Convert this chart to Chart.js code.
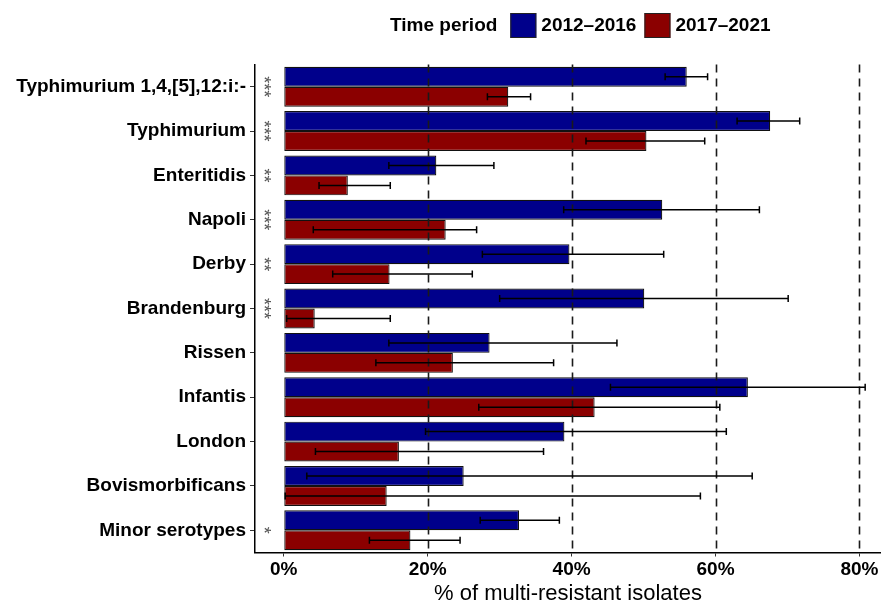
<!DOCTYPE html>
<html><head><meta charset="utf-8">
<script src="https://cdn.jsdelivr.net/npm/chart.js@4"></script>
<style>html,body{margin:0;padding:0;background:#fff}</style>
</head><body>
<canvas id="c" width="881" height="601"></canvas>
<script>
const categories = ['Typhimurium 1,4,[5],12:i:-','Typhimurium','Enteritidis','Napoli','Derby','Brandenburg','Rissen','Infantis','London','Bovismorbificans','Minor serotypes'];
const seriesNames = ['2012–2016','2017–2021'];
const legendTitle = 'Time period';
const early = [56.0,67.6,21.2,52.6,39.7,50.1,28.6,64.5,39.0,25.0,32.7];
const earlyLow = [53.0,63.0,14.6,38.9,27.6,30.0,14.6,45.4,19.7,3.2,27.3];
const earlyHigh = [58.9,71.7,29.2,66.1,52.8,70.1,46.3,80.8,61.5,65.1,38.3];
const late = [31.2,50.4,8.9,22.5,14.7,4.3,23.5,43.2,16.0,14.3,17.6];
const lateLow = [28.3,42.0,4.9,4.1,6.8,0.4,12.8,27.1,4.4,0.2,11.9];
const lateHigh = [34.3,58.5,14.8,26.8,26.2,14.8,37.5,60.6,36.1,57.9,24.5];
const significance = ['***','***','**','***','**','***','','','','','*'];
const xTicks = [0,20,40,60,80];
const xTitle = '% of multi-resistant isolates';
const colors = ['#00008B','#8B0000'];
const errLow = [earlyLow, lateLow];
const errHigh = [earlyHigh, lateHigh];

const FONT = '"Liberation Sans", Arial, sans-serif';

const overlay = {
  id: 'overlay',
  afterDatasetsDraw(chart) {
    const ctx = chart.ctx, xs = chart.scales.x, ys = chart.scales.y, area = chart.chartArea;
    // dashed reference lines
    ctx.save();
    ctx.strokeStyle = '#1a1a1a';
    ctx.lineWidth = 1.6;
    ctx.setLineDash([8, 6]);
    xTicks.forEach(v => {
      if (v === 0) return;
      const px = Math.round(xs.getPixelForValue(v)) + 0.5;
      ctx.beginPath();
      ctx.moveTo(px, area.top);
      ctx.lineTo(px, area.bottom);
      ctx.stroke();
    });
    ctx.restore();
    // error bars
    ctx.save();
    ctx.strokeStyle = '#000';
    ctx.lineWidth = 1.5;
    chart.data.datasets.forEach((ds, di) => {
      const meta = chart.getDatasetMeta(di);
      meta.data.forEach((bar, i) => {
        const y = bar.y;
        const x1 = xs.getPixelForValue(errLow[di][i]);
        const x2 = xs.getPixelForValue(errHigh[di][i]);
        ctx.beginPath();
        ctx.moveTo(x1, y); ctx.lineTo(x2, y);
        ctx.moveTo(x1, y - 3.5); ctx.lineTo(x1, y + 3.5);
        ctx.moveTo(x2, y - 3.5); ctx.lineTo(x2, y + 3.5);
        ctx.stroke();
      });
    });
    ctx.restore();
    // significance stars
    ctx.save();
    ctx.fillStyle = '#555';
    ctx.font = '18px ' + FONT;
    ctx.textAlign = 'center';
    ctx.textBaseline = 'middle';
    significance.forEach((s, i) => {
      if (!s) return;
      const y = ys.getPixelForValue(i);
      const x = area.left + 11;
      ctx.save();
      ctx.translate(x, y);
      ctx.rotate(Math.PI / 2);
      ctx.fillText(s, 0, 3.5);
      ctx.restore();
    });
    ctx.restore();
  },
  afterDraw(chart) {
    const ctx = chart.ctx;
    ctx.save();
    ctx.font = 'bold 19px ' + FONT;
    ctx.textBaseline = 'middle';
    ctx.fillStyle = '#000';
    let x = 390;
    const yc = 26;
    ctx.fillText(legendTitle, x, yc);
    x += ctx.measureText(legendTitle).width + 13;
    seriesNames.forEach((n, i) => {
      ctx.fillStyle = colors[i];
      ctx.fillRect(x, 13, 26, 25);
      ctx.strokeStyle = '#222';
      ctx.lineWidth = 1;
      ctx.strokeRect(x + 0.5, 13.5, 25, 24);
      x += 26 + 5;
      ctx.fillStyle = '#000';
      ctx.fillText(n, x, yc);
      x += ctx.measureText(n).width + 8;
    });
    ctx.restore();
  }
};

new Chart(document.getElementById('c'), {
  type: 'bar',
  plugins: [overlay],
  data: {
    labels: categories,
    datasets: [
      { label: seriesNames[0], data: early, backgroundColor: colors[0], borderColor: '#111', borderWidth: 1.2, borderSkipped: false },
      { label: seriesNames[1], data: late, backgroundColor: colors[1], borderColor: '#111', borderWidth: 1.2, borderSkipped: false }
    ]
  },
  options: {
    indexAxis: 'y',
    responsive: false,
    animation: false,
    devicePixelRatio: 1,
    layout: { padding: { top: 64.5, left: 0, right: 0, bottom: 0 } },
    datasets: { bar: { categoryPercentage: 0.9, barPercentage: 1.0 } },
    plugins: { legend: { display: false }, tooltip: { enabled: false } },
    scales: {
      x: {
        type: 'linear', min: -4, max: 83,
        afterBuildTicks(s) { s.ticks = xTicks.map(v => ({ value: v })); },
        afterFit(s) { s.height = 48.5; },
        grid: { drawOnChartArea: false, drawTicks: true, tickLength: 4, color: '#333', lineWidth: 1 },
        border: { display: true, color: '#000', width: 1.5 },
        ticks: { color: '#000', font: { family: FONT, size: 19, weight: 'bold' }, padding: 2, callback: v => v + '%' },
        title: { display: true, text: xTitle, color: '#000', font: { family: FONT, size: 22 }, padding: { top: 0, bottom: -6 } }
      },
      y: {
        afterFit(s) { s.width = 255; },
        grid: { drawOnChartArea: false, drawTicks: true, tickLength: 5, color: '#333', offset: false },
        border: { display: true, color: '#000', width: 1.5 },
        ticks: { color: '#000', font: { family: FONT, size: 19, weight: 'bold' }, padding: 4 }
      }
    }
  }
});
</script>
</body></html>
